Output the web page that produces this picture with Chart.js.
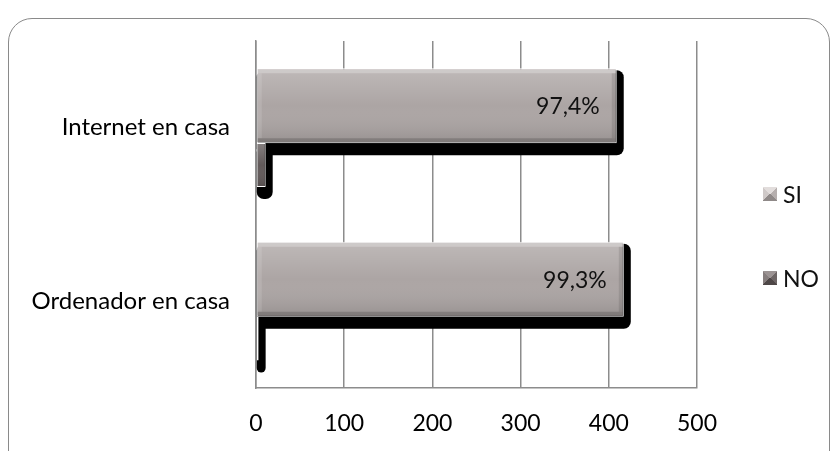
<!DOCTYPE html>
<html>
<head>
<meta charset="utf-8">
<script src="https://cdn.jsdelivr.net/npm/chart.js@4.4.0/dist/chart.umd.min.js"></script>
<style>
  body { margin: 0; background: #fff; font-family: Lato, sans-serif; }
  #wrap { position: relative; width: 834px; height: 451px; overflow: hidden; }
  #frame {
    position: absolute; left: 8px; top: 18px; width: 822px; height: 470px;
    border: 1.5px solid #8a8a8a; border-radius: 24px; box-sizing: border-box;
  }
  #chart { position: absolute; left: 0; top: 0; }
  .legend-item {
    position: absolute; left: 763px; height: 28px;
    display: flex; align-items: center; font-size: 23px; color: #111;
  }
  .legend-item .box { width: 14px; height: 14px; margin-right: 6px; box-sizing: border-box; }
  .box.si { background: conic-gradient(#e2dddc 0 12.5%, #b6afae 12.5% 37.5%, #8f8988 37.5% 62.5%, #cfc9c8 62.5% 87.5%, #e2dddc 87.5%); }
  .box.no { background: conic-gradient(#9b9393 0 12.5%, #6d6565 12.5% 37.5%, #4e4747 37.5% 62.5%, #857d7d 62.5% 87.5%, #9b9393 87.5%); }
</style>
</head>
<body>
<div id="wrap">
  <div id="frame"></div>
  <canvas id="chart" width="834" height="451"></canvas>
  <div class="legend-item" style="top:180px"><span class="box si"></span>SI</div>
  <div class="legend-item" style="top:264px"><span class="box no"></span>NO</div>
</div>
<script>
const categories = ['Internet en casa', 'Ordenador en casa'];
const siValues = [409, 417];
const noValues = [11, 3];
const xTicks = [0, 100, 200, 300, 400, 500];

// percentage of SI answers over the total of each question
function percentLabel(i) {
  const pct = siValues[i] / (siValues[i] + noValues[i]) * 100;
  return pct.toFixed(1).replace('.', ',') + '%';
}

function roundRect(ctx, x, y, w, h, r) {
  r = Math.min(r, w / 2, h / 2);
  ctx.beginPath();
  ctx.moveTo(x + r, y);
  ctx.arcTo(x + w, y, x + w, y + h, r);
  ctx.arcTo(x + w, y + h, x, y + h, r);
  ctx.arcTo(x, y + h, x, y, r);
  ctx.arcTo(x, y, x + w, y, r);
  ctx.closePath();
}

function barBox(el) {
  const p = el.getProps(['x', 'y', 'base', 'height'], true);
  const left = Math.min(p.x, p.base);
  const right = Math.max(p.x, p.base);
  return { left, right, top: p.y - p.height / 2, bottom: p.y + p.height / 2, y: p.y };
}

// black drop shadow under every bar
const barShadow = {
  id: 'barShadow',
  beforeDatasetsDraw(chart) {
    const ctx = chart.ctx;
    ctx.save();
    ctx.fillStyle = '#000';
    chart.data.datasets.forEach((ds, di) => {
      chart.getDatasetMeta(di).data.forEach(el => {
        const b = barBox(el);
        roundRect(ctx, b.left, b.top + 2, b.right - b.left + 7, b.bottom - b.top + 10, 7);
        ctx.fill();
      });
    });
    ctx.restore();
  }
};

// bevel shading on the bars and the percentage inside the SI bars
const barBevel = {
  id: 'barBevel',
  afterDatasetsDraw(chart) {
    const ctx = chart.ctx;
    ctx.save();
    chart.data.datasets.forEach((ds, di) => {
      chart.getDatasetMeta(di).data.forEach(el => {
        const b = barBox(el);
        const x = b.left + 1, y = b.top + 1, w = b.right - b.left - 2, h = b.bottom - b.top - 2;
        if (w <= 6 || h <= 0) return;
        const g = ctx.createLinearGradient(0, y, 0, y + h);
        g.addColorStop(0, 'rgba(255,255,255,0.22)');
        g.addColorStop(0.5, 'rgba(255,255,255,0)');
        g.addColorStop(1, 'rgba(0,0,0,0.12)');
        ctx.fillStyle = g;
        ctx.fillRect(x, y, w, h);
        if (w < 30) return;
        ctx.fillStyle = 'rgba(255,255,255,0.25)';
        ctx.fillRect(x, y, w, 4);
        ctx.fillStyle = 'rgba(255,255,255,0.12)';
        ctx.fillRect(x, y + 4, 4, h - 8);
        ctx.fillStyle = 'rgba(0,0,0,0.10)';
        ctx.fillRect(x + w - 4, y + 4, 4, h - 8);
        ctx.fillStyle = 'rgba(0,0,0,0.16)';
        ctx.fillRect(x, y + h - 4, w, 4);
      });
    });
    const meta = chart.getDatasetMeta(0);
    ctx.font = '23px Lato';
    ctx.fillStyle = '#111';
    ctx.textAlign = 'right';
    ctx.textBaseline = 'middle';
    meta.data.forEach((el, i) => {
      const b = barBox(el);
      ctx.fillText(percentLabel(i), b.right - 17, b.y + 1);
    });
    ctx.restore();
  }
};

const ctx = document.getElementById('chart').getContext('2d');
const chart = new Chart(ctx, {
  type: 'bar',
  data: {
    labels: categories,
    datasets: [
      {
        label: 'SI',
        data: siValues,
        backgroundColor: '#aca5a4',
        borderColor: '#ffffff',
        borderWidth: 1,
        borderSkipped: false,
        categoryPercentage: 0.507,
        barPercentage: 1.705
      },
      {
        label: 'NO',
        data: noValues,
        backgroundColor: '#625a5a',
        borderColor: '#ffffff',
        borderWidth: 1,
        borderSkipped: false,
        categoryPercentage: 0.859,
        barPercentage: 0.59
      }
    ]
  },
  options: {
    indexAxis: 'y',
    responsive: false,
    animation: false,
    devicePixelRatio: 1,
    layout: { padding: { top: 41, right: 137, bottom: 0, left: 0 } },
    plugins: {
      legend: { display: false },
      tooltip: { enabled: false }
    },
    scales: {
      x: {
        min: xTicks[0],
        max: xTicks[xTicks.length - 1],
        ticks: {
          stepSize: xTicks[1] - xTicks[0],
          color: '#000',
          font: { family: 'Lato', size: 23 },
          padding: 22
        },
        grid: { color: '#8c8c8c', lineWidth: 1.5, drawTicks: false },
        border: { color: '#8c8c8c', width: 1.5 },
        afterFit(scale) { scale.height = 63; }
      },
      y: {
        ticks: {
          color: '#000',
          font: { family: 'Lato', size: 24 },
          padding: 26
        },
        grid: { display: false, drawTicks: false },
        border: { display: true, color: '#8c8c8c', width: 1.5 },
        afterFit(scale) { scale.width = 256; }
      }
    }
  },
  plugins: [barShadow, barBevel]
});
</script>
</body>
</html>
